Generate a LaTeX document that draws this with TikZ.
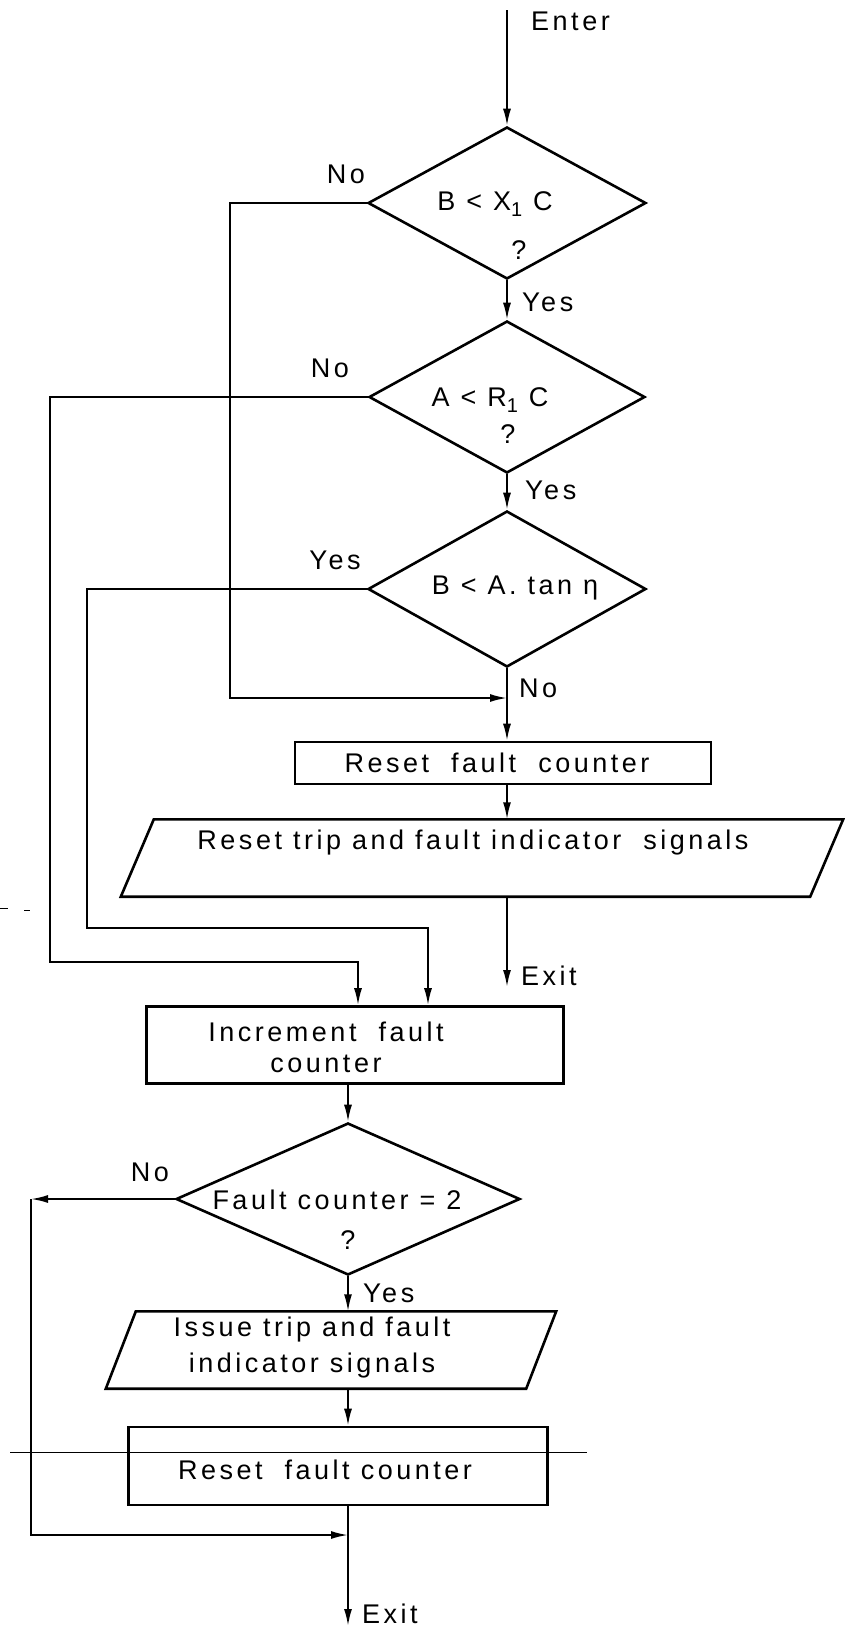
\documentclass[tikz,border=0pt]{standalone}
\usepackage{fontspec}
\setmainfont{Liberation Sans}[LetterSpace=13]
\usetikzlibrary{arrows.meta,shapes.geometric,calc}
\newcommand{\subone}{\raisebox{-6pt}{\fontsize{20}{22}\selectfont 1}}
\begin{document}
\begin{tikzpicture}[x=1pt,y=-1pt,
  every node/.style={font=\fontsize{27}{33}\selectfont},
  txt/.style={inner sep=0pt},
  boxshape/.style={draw,line width=2.6pt,rectangle,inner sep=0pt},
  decshape/.style={draw,line width=2.6pt,diamond,inner sep=0pt},
  ghost/.style={rectangle,inner sep=0pt},
  conn/.style={line width=1.9pt},
  arr/.style={conn,-{Latex[length=17pt,width=8pt]}},
  shapeline/.style={line width=2.6pt,line join=miter},
]
\useasboundingbox (0,0) rectangle (845,1631);

% ---- nodes ----
\coordinate (enter) at (507,10);
\node[decshape,minimum width=278pt,minimum height=152pt] (d1) at (507,203) {};
\node[decshape,minimum width=276pt,minimum height=152pt] (d2) at (507,397) {};
\node[decshape,minimum width=278pt,minimum height=156pt] (d3) at (507,589) {};
\node[boxshape,minimum width=416pt,minimum height=42pt] (b1) at (503,763) {};
\node[ghost,minimum width=689pt,minimum height=77pt] (p1) at (482,858) {};
\draw[shapeline] ($(p1.north west)+(16.5,0)$) -- ($(p1.north east)+(16.5,0)$)
  -- ($(p1.south east)+(-16.5,0)$) -- ($(p1.south west)+(-16.5,0)$) -- cycle;
\coordinate (x1) at (507,987);

\node[boxshape,minimum width=417pt,minimum height=77pt] (inc) at (355,1045) {};
\node[decshape,minimum width=344pt,minimum height=152pt] (d4) at (348,1199) {};
\node[ghost,minimum width=420pt,minimum height=77pt] (p2) at (331,1350) {};
\draw[shapeline] ($(p2.north west)+(15,0)$) -- ($(p2.north east)+(15,0)$)
  -- ($(p2.south east)+(-15,0)$) -- ($(p2.south west)+(-15,0)$) -- cycle;
\node[boxshape,minimum width=419pt,minimum height=78pt] (b2) at (338,1466) {};
\coordinate (x2) at (348,1626);

% ---- texts ----
\node[txt,anchor=west] (tEnter) at (531,21) {Enter};
\node[txt] (t1) at (495,204) {B < X\subone\ C};
\node[txt] (t1q) at (519,250) {?};
\node[txt] (t2) at (490,400) {A < R\subone\ C};
\node[txt] (t2q) at (508,434) {?};
\node[txt] (t3) at (515,588) {B < A. tan η};
\node[txt] (tb1) at (497,763) {Reset\ \ fault\ \ counter};
\node[txt] (tp1) at (473,843) {Reset\ trip\ and\ fault\ indicator\ \ signals};
\node[txt,align=center,font=\fontsize{27}{31}\selectfont] (tinc) at (326,1047) {Increment\ \ fault\\counter};
\node[txt] (t4) at (337,1200) {Fault counter = 2};
\node[txt] (t4q) at (348,1240) {?};
\node[txt,align=center,font=\fontsize{27}{36}\selectfont] (tp2) at (312,1348) {Issue trip and fault\\indicator signals};
\node[txt] (tb2) at (325,1470) {Reset\ \ fault counter};

\node[txt] (lNo1) at (346,174) {No};
\node[txt,anchor=west] (lYes1) at (522,302) {Yes};
\node[txt] (lNo2) at (330,368) {No};
\node[txt,anchor=west] (lYes2) at (525,490) {Yes};
\node[txt] (lYes3) at (335,560) {Yes};
\node[txt,anchor=west] (lNo3) at (519,688) {No};
\node[txt,anchor=west] (lExit1) at (521,976) {Exit};
\node[txt] (lNo4) at (150,1172) {No};
\node[txt,anchor=west] (lYes4) at (363,1293) {Yes};
\node[txt,anchor=west] (lExit2) at (362,1614) {Exit};

% ---- connectors ----
\draw[arr] (enter) -- (d1.north);
\draw[arr] (d1.south) -- (d2.north);
\draw[arr] (d2.south) -- (d3.north);
\draw[arr] (d3.south) -- (d3.south |- b1.north);
\draw[arr] (d3.south |- b1.south) -- (d3.south |- p1.north);
\draw[arr] (d3.south |- p1.south) -- (x1);

\coordinate (c1a) at (230,203);
\coordinate (c1b) at (230,698);
\draw[arr] (d1.west) -- (c1a) -- (c1b) -- (c1b -| d3.south);

\coordinate (c2a) at (50,397);
\coordinate (c2b) at (50,962);
\coordinate (c2c) at (358,962);
\draw[arr] (d2.west) -- (c2a) -- (c2b) -- (c2c) -- (c2c |- inc.north);

\coordinate (c3a) at (87,589);
\coordinate (c3b) at (87,928);
\coordinate (c3c) at (428,928);
\draw[arr] (d3.west) -- (c3a) -- (c3b) -- (c3c) -- (c3c |- inc.north);

\draw[arr] (d4.north |- inc.south) -- (d4.north);
\draw[arr] (d4.south) -- (d4.south |- p2.north);
\draw[arr] (d4.south |- p2.south) -- (d4.south |- b2.north);
\draw[arr] (d4.south |- b2.south) -- (x2);

\coordinate (c4a) at (31,1199);
\coordinate (c4b) at (31,1535);
\draw[arr] (d4.west) -- (c4a);
\draw[arr] (c4a) -- (c4b) -- (c4b -| d4.south);

% ---- stray marks of the scan ----
\draw[line width=0.8pt] (10,1452) -- (587,1452);
\draw[line width=1pt] (0,908) -- (8,908) (24,910) -- (30,910);
\end{tikzpicture}
\end{document}
